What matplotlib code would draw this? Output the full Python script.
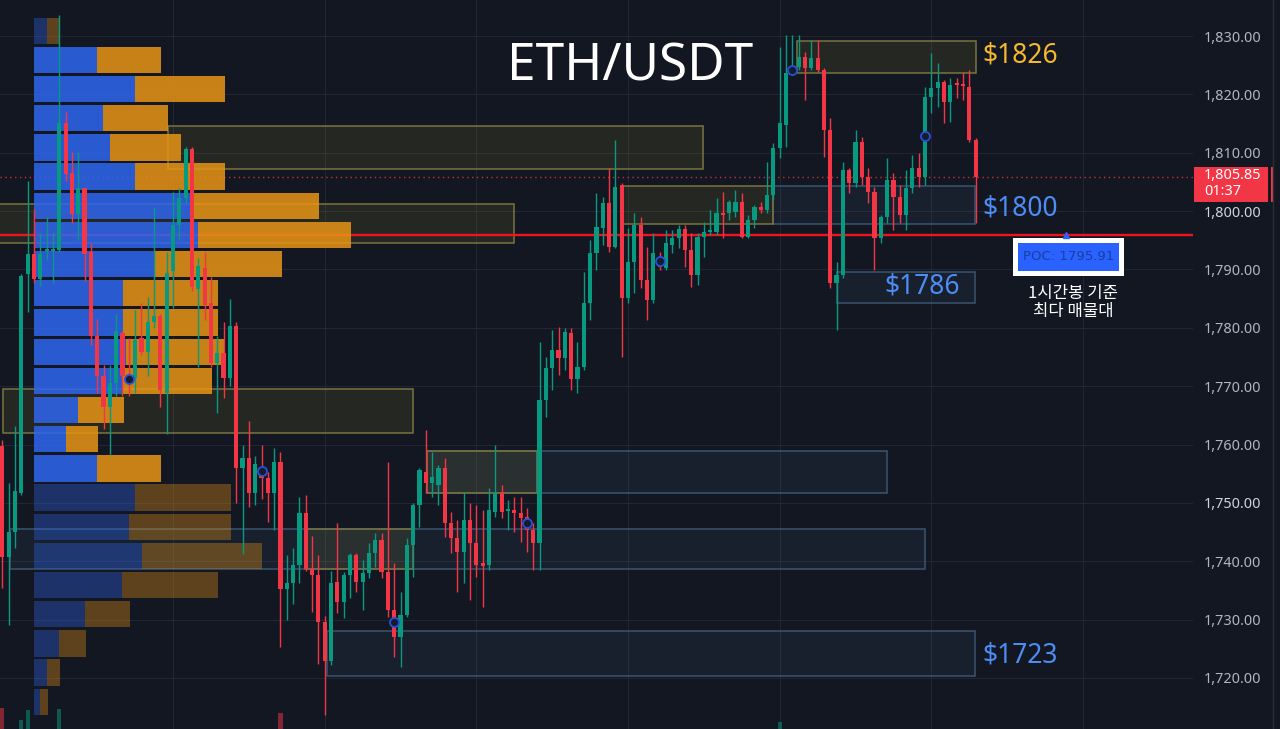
import matplotlib
matplotlib.use('Agg')
import matplotlib.pyplot as plt
import numpy as np
from matplotlib.patches import Rectangle
from matplotlib.lines import Line2D
from matplotlib.transforms import blended_transform_factory

# ETH/USDT 1h candles (oldest -> newest)
opens = [1759.7, 1740.7, 1745.0, 1751.7, 1789.2, 1792.6, 1788.4, 1793.2, 1793.2, 1793.3,
         1815.1, 1806.5, 1799.5, 1804.0, 1793.0, 1778.6, 1771.7, 1766.4, 1770.5, 1779.1,
         1771.7, 1771.4, 1778.3, 1775.9, 1781.0, 1782.0, 1768.8, 1789.7, 1797.6, 1802.2,
         1810.6, 1786.6, 1790.2, 1784.2, 1774.0, 1775.7, 1771.4, 1780.3, 1756.0, 1757.7,
         1751.7, 1756.0, 1754.3, 1751.7, 1757.0, 1735.2, 1736.3, 1739.4, 1748.3, 1738.7,
         1737.6, 1729.6, 1722.9, 1736.4, 1733.0, 1737.6, 1741.1, 1736.4, 1738.0, 1741.4,
         1743.6, 1738.2, 1731.6, 1727.0, 1730.8, 1742.8, 1749.6, 1755.3, 1753.4, 1753.1,
         1756.0, 1746.6, 1744.0, 1741.6, 1747.1, 1743.1, 1739.7, 1739.4, 1748.4, 1751.7,
         1748.6, 1748.8, 1748.3, 1747.6, 1745.4, 1743.1, 1767.6, 1773.1, 1776.2, 1774.8,
         1779.1, 1771.2, 1773.3, 1784.2, 1792.8, 1797.1, 1801.4, 1793.8, 1804.5, 1785.1,
         1791.3, 1797.6, 1788.2, 1784.8, 1792.1, 1790.2, 1794.2, 1795.4, 1796.9, 1793.3,
         1789.0, 1795.6, 1796.4, 1796.4, 1799.7, 1799.7, 1799.8, 1801.6, 1795.6, 1798.5,
         1800.7, 1800.2, 1802.8, 1810.8, 1814.8, 1823.7, 1824.7, 1826.4, 1824.5, 1826.2,
         1824.2, 1813.9, 1787.7, 1789.0, 1807.0, 1804.8, 1811.8, 1805.8, 1803.3, 1795.4,
         1799.0, 1805.3, 1802.4, 1799.3, 1804.0, 1807.4, 1805.8, 1819.5, 1821.1, 1822.1,
         1818.7, 1821.8, 1821.8, 1821.3, 1812.2]
closes = [1740.7, 1745.0, 1752.0, 1788.9, 1792.6, 1788.4, 1792.6, 1793.5, 1793.5, 1815.1,
          1806.4, 1799.5, 1804.0, 1792.6, 1778.6, 1771.7, 1766.4, 1770.5, 1779.5, 1771.7,
          1770.5, 1777.9, 1775.9, 1781.0, 1782.0, 1769.3, 1789.4, 1797.6, 1802.2, 1810.6,
          1787.0, 1790.6, 1783.9, 1774.0, 1775.7, 1771.4, 1780.3, 1756.0, 1757.7, 1751.7,
          1756.7, 1754.3, 1751.7, 1757.0, 1735.2, 1736.3, 1739.4, 1748.3, 1738.7, 1737.6,
          1729.6, 1722.9, 1736.3, 1733.0, 1737.6, 1741.1, 1736.4, 1738.0, 1741.4, 1743.6,
          1738.2, 1731.6, 1727.0, 1730.8, 1742.8, 1749.6, 1755.6, 1753.4, 1754.4, 1756.0,
          1746.6, 1744.0, 1741.6, 1747.1, 1743.1, 1739.4, 1739.2, 1748.8, 1751.7, 1748.4,
          1748.9, 1748.3, 1747.4, 1745.4, 1743.1, 1767.6, 1773.1, 1776.2, 1774.8, 1779.3,
          1771.2, 1773.3, 1784.2, 1792.8, 1797.3, 1801.4, 1793.8, 1804.1, 1785.1, 1791.3,
          1797.6, 1788.2, 1784.8, 1792.8, 1790.4, 1794.5, 1795.4, 1796.9, 1793.3, 1789.0,
          1795.6, 1796.4, 1796.6, 1799.7, 1799.3, 1801.6, 1801.6, 1795.6, 1798.5, 1800.7,
          1800.2, 1802.8, 1810.8, 1815.1, 1823.7, 1824.7, 1826.4, 1824.5, 1826.2, 1824.2,
          1813.9, 1787.7, 1789.0, 1807.0, 1804.8, 1811.8, 1805.8, 1803.3, 1795.4, 1799.0,
          1805.3, 1802.4, 1799.3, 1804.0, 1807.4, 1805.8, 1819.5, 1821.1, 1822.1, 1818.7,
          1821.6, 1821.6, 1821.4, 1812.2, 1805.85]
highs = [1760.8, 1753.4, 1763.2, 1789.2, 1805.2, 1800.4, 1796.2, 1799.0, 1796.2, 1833.6,
         1817.0, 1810.1, 1810.1, 1804.0, 1794.5, 1781.5, 1773.6, 1773.6, 1782.4, 1779.5,
         1778.3, 1783.0, 1784.2, 1785.3, 1800.7, 1782.4, 1793.0, 1803.3, 1804.0, 1811.0,
         1811.0, 1792.0, 1793.0, 1788.7, 1778.6, 1781.0, 1784.9, 1781.0, 1759.9, 1764.0,
         1758.1, 1759.9, 1755.3, 1759.4, 1758.7, 1741.1, 1742.3, 1751.0, 1751.3, 1744.3,
         1741.1, 1730.6, 1738.3, 1746.6, 1738.2, 1741.4, 1741.4, 1740.2, 1743.1, 1744.8,
         1744.8, 1757.0, 1739.7, 1734.7, 1744.0, 1750.0, 1756.0, 1762.5, 1758.7, 1756.5,
         1757.7, 1748.4, 1747.1, 1751.9, 1750.0, 1749.6, 1748.8, 1752.5, 1759.9, 1753.1,
         1750.5, 1751.0, 1751.0, 1749.1, 1746.6, 1777.6, 1775.0, 1779.6, 1780.1, 1780.0,
         1780.0, 1777.6, 1789.6, 1795.0, 1803.1, 1802.4, 1807.4, 1812.2, 1804.8, 1797.1,
         1799.7, 1799.0, 1793.8, 1796.2, 1793.0, 1796.8, 1796.8, 1797.6, 1797.6, 1796.2,
         1796.2, 1798.1, 1800.2, 1802.2, 1803.3, 1801.9, 1803.6, 1803.1, 1799.3, 1801.0,
         1801.6, 1808.4, 1811.7, 1828.1, 1830.2, 1830.2, 1830.2, 1827.3, 1829.3, 1829.3,
         1824.5, 1816.0, 1791.3, 1808.4, 1807.4, 1813.9, 1812.7, 1807.4, 1804.1, 1799.3,
         1809.1, 1806.5, 1804.5, 1807.0, 1809.6, 1810.0, 1821.3, 1827.1, 1825.4, 1822.5,
         1822.8, 1822.8, 1823.8, 1824.2, 1812.5]
lows = [1735.4, 1729.1, 1742.3, 1751.3, 1782.7, 1787.7, 1787.2, 1791.6, 1787.7, 1793.0,
        1805.2, 1798.0, 1795.0, 1788.0, 1777.0, 1768.8, 1762.7, 1758.2, 1768.3, 1768.3,
        1768.3, 1768.8, 1775.3, 1771.7, 1780.0, 1766.4, 1761.8, 1783.4, 1795.0, 1801.4,
        1786.3, 1773.3, 1781.3, 1773.3, 1765.4, 1768.0, 1770.0, 1750.0, 1741.2, 1749.3,
        1749.6, 1750.7, 1746.7, 1745.4, 1725.3, 1730.0, 1732.7, 1736.3, 1738.3, 1731.3,
        1722.4, 1713.7, 1722.2, 1731.1, 1730.3, 1733.7, 1734.7, 1731.6, 1737.1, 1739.0,
        1737.1, 1730.4, 1723.6, 1721.9, 1730.4, 1737.3, 1745.9, 1751.7, 1751.0, 1749.6,
        1744.2, 1741.4, 1734.7, 1736.3, 1733.4, 1737.3, 1732.2, 1738.5, 1747.6, 1747.4,
        1745.4, 1745.0, 1743.3, 1741.6, 1738.5, 1738.5, 1764.7, 1769.3, 1771.9, 1772.8,
        1769.3, 1768.8, 1772.8, 1781.3, 1789.9, 1794.2, 1793.0, 1793.7, 1775.0, 1784.2,
        1786.0, 1786.8, 1781.3, 1784.2, 1789.9, 1789.9, 1792.8, 1793.7, 1790.4, 1787.0,
        1787.3, 1792.1, 1795.9, 1795.9, 1795.4, 1798.5, 1799.0, 1795.4, 1795.4, 1797.1,
        1799.7, 1799.7, 1801.9, 1809.1, 1811.0, 1823.3, 1824.2, 1819.0, 1824.2, 1823.8,
        1809.3, 1786.8, 1779.6, 1788.5, 1803.1, 1804.1, 1804.5, 1801.4, 1789.9, 1794.5,
        1798.0, 1796.8, 1798.0, 1796.8, 1803.1, 1804.1, 1804.5, 1816.8, 1817.8, 1815.1,
        1815.3, 1819.4, 1819.0, 1811.8, 1798.0]

# volume profile rows (price level, buy volume, sell volume)
vp_levels = [1830.91, 1825.91, 1820.91, 1815.91, 1810.91, 1805.91, 1800.91, 1795.91,
             1790.91, 1785.91, 1780.91, 1775.91, 1770.91, 1765.91, 1760.91, 1755.91,
             1750.91, 1745.91, 1740.91, 1735.91, 1730.91, 1725.91, 1720.91, 1715.91]
vp_buy = [13, 63, 101, 69, 76, 101, 159, 164, 121, 89, 89, 92,
          89, 44, 32, 63, 101, 95, 108, 88, 51, 25, 13, 6]
vp_sell = [12, 64, 90, 65, 71, 90, 126, 153, 127, 95, 95, 98,
           89, 46, 32, 64, 96, 102, 120, 96, 45, 27, 13, 8]
va_high = 1825.91
va_low = 1755.91
poc = 1795.91
last_price = 1805.85

# zones: (start candle, end candle, bottom, top)
yellow_zones = [(26.2, 110.9, 1807.2, 1814.6), (-1.0, 81.0, 1794.5, 1801.2),
                (0.1, 65.0, 1762.0, 1769.5), (67.2, 84.6, 1751.7, 1758.9),
                (98.2, 121.9, 1797.8, 1804.3), (125.7, 154.1, 1823.7, 1829.1),
                (47.9, 65.0, 1738.7, 1745.5)]
blue_zones = [(67.2, 140.0, 1751.7, 1758.9), (1.2, 146.0, 1738.7, 1745.5),
              (51.4, 153.9, 1720.3, 1728.0), (121.9, 153.9, 1797.8, 1804.3),
              (132.1, 153.9, 1784.3, 1789.6)]

# zone labels
gold_labels = [(155.0, 1826.6, '$1826')]
blue_labels = [(155.0, 1800.5, '$1800'), (139.5, 1787.0, '$1786'), (155.0, 1723.8, '$1723')]

# pivot markers
mark_idx = [20, 41, 62, 83, 104, 125, 146]
mark_price = [1771.2, 1755.5, 1729.6, 1746.6, 1791.4, 1824.2, 1812.9]

# volume bars peeking in at the bottom
vol_idx = [0, 3, 4, 9, 44, 123]
vol_val = [21, 9, 19, 20, 16, 7]

bg = '#131722'
green = '#089981'
red = '#f23645'
grid_c = '#222633'

fig = plt.figure(figsize=(12.8, 7.29), dpi=100, facecolor=bg)
ax = fig.add_axes([0, 0, 1193 / 1280, 1], facecolor=bg)
ax.set_xlim(-0.38, 188.4)
ax.set_ylim(1711.25, 1836.17)

# grid
ax.set_yticks(np.arange(1720, 1831, 10))
ax.set_yticklabels(['{:,.2f}'.format(v) for v in np.arange(1720, 1831, 10)])
ax.set_xticks([27, 51, 75, 99, 123, 147, 171])
ax.grid(True, color=grid_c, lw=0.8, zorder=0)
ax.set_axisbelow(True)
ax.yaxis.tick_right()
ax.tick_params(axis='y', length=0, pad=8, labelsize=10.4, labelcolor='#b2b5be')
ax.tick_params(axis='x', length=0, labelbottom=False)
for lab in ax.get_yticklabels():
    lab.set_fontfamily('Noto Sans')
    if lab.get_text() in ('1,800.00', '1,750.00'):
        lab.set_color('#d1d4dc')
        lab.set_fontweight('bold')
for s in ax.spines.values():
    s.set_visible(False)

# zones
for x0, x1, y0, y1 in blue_zones:
    ax.add_patch(Rectangle((x0, y0), x1 - x0, y1 - y0, facecolor='#5b9bd5', alpha=0.07,
                           edgecolor='none', zorder=1))
    ax.add_patch(Rectangle((x0, y0), x1 - x0, y1 - y0, facecolor='none',
                           edgecolor='#3b5570', lw=1.1, zorder=1))
for x0, x1, y0, y1 in yellow_zones:
    ax.add_patch(Rectangle((x0, y0), x1 - x0, y1 - y0, facecolor='#ffeb3b', alpha=0.08,
                           edgecolor='none', zorder=1))
    ax.add_patch(Rectangle((x0, y0), x1 - x0, y1 - y0, facecolor='none',
                           edgecolor='#7a7340', lw=1.1, zorder=1))

# POC and last price lines
ax.axhline(poc, color='#f0141e', lw=1.7, zorder=2)
ax.axhline(last_price, color=red, lw=1, ls=(0, (1, 2.5)), alpha=0.8, zorder=2)

# volume profile on the left
tr_prof = blended_transform_factory(ax.transAxes, ax.transData)
prof_x0 = 34 / 1193
prof_width = 0.266
scale = prof_width / max(b + s for b, s in zip(vp_buy, vp_sell))
row_h = 4.5
for p, b, s in zip(vp_levels, vp_buy, vp_sell):
    a = 0.85 if va_low <= p <= va_high else 0.35
    ax.add_patch(Rectangle((prof_x0, p - row_h / 2), b * scale, row_h, transform=tr_prof,
                           facecolor='#2f66f0', alpha=a, lw=0, zorder=3))
    ax.add_patch(Rectangle((prof_x0 + b * scale, p - row_h / 2), s * scale, row_h,
                           transform=tr_prof, facecolor='#e89414', alpha=a, lw=0, zorder=3))

# candles
o = np.array(opens)
c = np.array(closes)
h = np.maximum(np.array(highs), np.maximum(o, c))
l = np.minimum(np.array(lows), np.minimum(o, c))
x = np.arange(len(o))
cols = np.where(c >= o, green, red)
ax.vlines(x, l, h, colors=cols, lw=1, zorder=5)
ax.bar(x, np.maximum(np.abs(c - o), 0.3), bottom=np.minimum(o, c), width=0.66,
       color=cols, zorder=6)

# bottom volume bars
tr_vol = blended_transform_factory(ax.transData, ax.transAxes)
for i, v in zip(vol_idx, vol_val):
    ax.add_patch(Rectangle((i - 0.33, 0), 0.66, v / 729, transform=tr_vol,
                           facecolor=green if closes[i] >= opens[i] else red,
                           alpha=0.5, lw=0, zorder=4))

ax.plot(mark_idx, mark_price, 'o', ms=6.5, mfc='#161c30', mec='#2a4fd6', mew=1.3, zorder=7)

# labels
for xi, yi, t in gold_labels:
    ax.text(xi, yi, t, color='#f5b82e', fontsize=19, family='Noto Sans',
            va='center', ha='left', zorder=8)
for xi, yi, t in blue_labels:
    ax.text(xi, yi, t, color='#4c8df6', fontsize=19, family='Noto Sans',
            va='center', ha='left', zorder=8)

fig.text(630 / 1280, 1 - 67 / 729, 'ETH/USDT', color='white', fontsize=37,
         family='Noto Sans', ha='center', va='center')

# POC callout
ax.add_patch(Rectangle((159.9, poc - 7.0), 17.6, 6.5, facecolor='white', lw=0, zorder=8))
ax.add_patch(Rectangle((160.7, poc - 6.2), 16.0, 4.9, facecolor='#2962ff', lw=0, zorder=9))
ax.text(168.7, poc - 3.75, 'POC: {:.2f}'.format(poc), color='#1a3f9c', fontsize=9.5,
        family='DejaVu Sans', ha='center', va='center', zorder=10)
ax.plot([168.3], [poc], marker='^', ms=4, color='#2962ff', zorder=8)
ax.text(169.4, poc - 11.6, '1시간봉 기준\n최다 매물대', color='white', fontsize=12,
        family=['Noto Sans CJK KR', 'DejaVu Sans'], ha='center', va='center',
        linespacing=1.05, zorder=10)

# last price tag on the price scale
tr_tag = blended_transform_factory(fig.transFigure, ax.transData)
fig.add_artist(Rectangle((1194 / 1280, last_price - 4.3), 74 / 1280, 6.0,
                         transform=tr_tag, facecolor=red, lw=0))
fig.add_artist(Rectangle((1271 / 1280, last_price - 4.3), 3 / 1280, 6.0,
                         transform=tr_tag, facecolor=red, lw=0))
fig.text(1204 / 1280, last_price + 0.3, '{:,.2f}'.format(last_price), transform=tr_tag,
         color='white', fontsize=10.4, family='Noto Sans', va='center')
fig.text(1204 / 1280, last_price - 2.5, '01:37', transform=tr_tag,
         color='white', fontsize=10.4, family='Noto Sans', va='center')
fig.add_artist(Line2D([1273 / 1280, 1273 / 1280], [0, 1], color='#2a2e39', lw=1))

fig.savefig('out.png', dpi=100, facecolor=bg)
